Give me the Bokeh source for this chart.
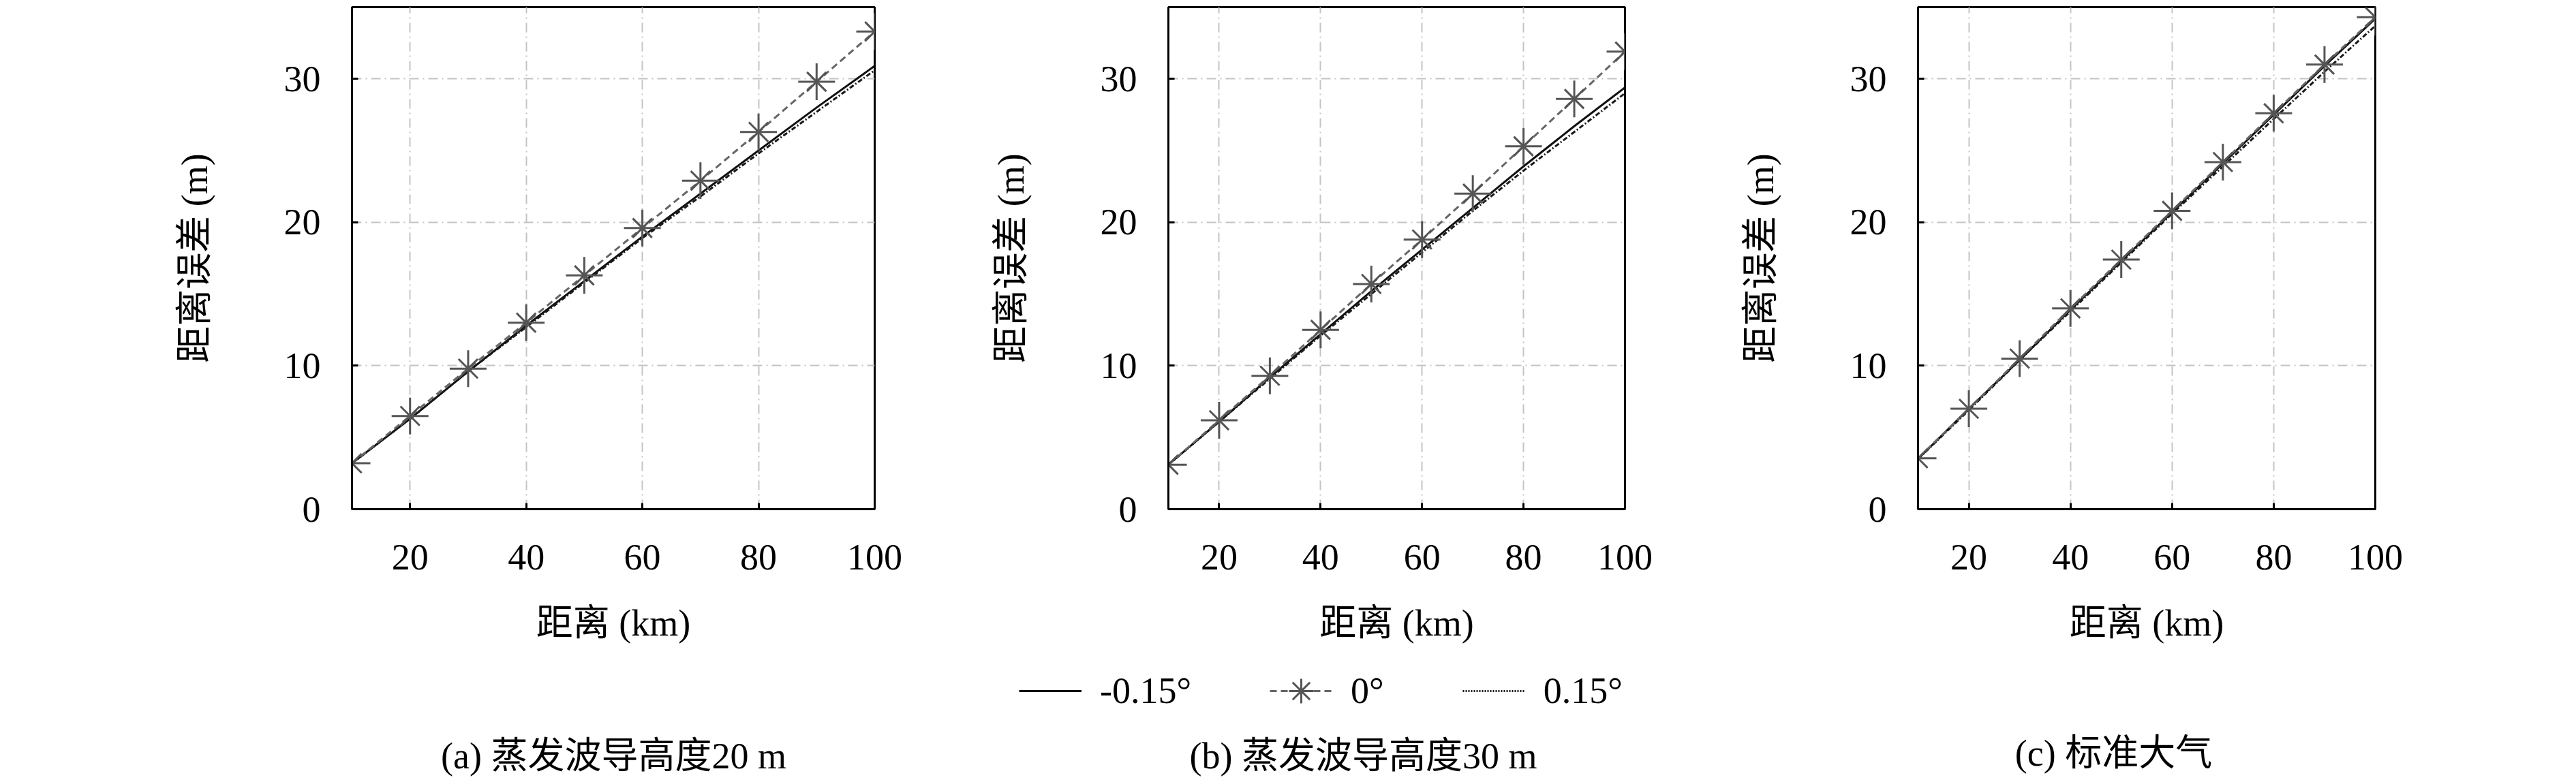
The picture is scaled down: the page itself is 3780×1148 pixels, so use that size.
from bokeh.plotting import figure
from bokeh.layouts import row, column
from bokeh.models import Range1d, FixedTicker, Legend, LegendItem, Label
from bokeh.embed import file_html
from bokeh.resources import INLINE

# ---------------- data ----------------
distance_km = [10, 20, 30, 40, 50, 60, 70, 80, 90, 100]

# (a) evaporation duct height 20 m
a_neg = [3.2, 6.3, 9.6, 12.8, 15.9, 19.0, 22.0, 25.0, 28.0, 30.9]
a_zero = [3.2, 6.5, 9.8, 13.0, 16.3, 19.6, 22.9, 26.3, 29.8, 33.3]
a_pos = [3.2, 6.3, 9.6, 12.7, 15.8, 18.9, 21.8, 24.8, 27.7, 30.6]

# (b) evaporation duct height 30 m
b_neg = [3.1, 6.1, 9.2, 12.2, 15.2, 18.1, 21.0, 23.9, 26.7, 29.4]
b_zero = [3.1, 6.2, 9.3, 12.5, 15.7, 18.8, 22.0, 25.3, 28.6, 31.9]
b_pos = [3.1, 6.1, 9.1, 12.1, 15.0, 17.9, 20.8, 23.6, 26.3, 29.0]

# (c) standard atmosphere
c_neg = [3.5, 7.0, 10.4, 13.9, 17.3, 20.7, 24.1, 27.5, 30.9, 34.2]
c_zero = [3.55, 7.0, 10.5, 14.0, 17.4, 20.8, 24.2, 27.6, 31.0, 34.3]
c_pos = [3.5, 6.9, 10.4, 13.8, 17.2, 20.6, 23.9, 27.2, 30.5, 33.7]

captions = ["(a) 蒸发波导高度20 m", "(b) 蒸发波导高度30 m", "(c) 标准大气"]
legend_labels = ["-0.15°", "0°", "0.15°"]
x_label = "距离 (km)"
y_label = "距离误差 (m)"
x_ticks = [20, 40, 60, 80, 100]
y_ticks = [0, 10, 20, 30]
x_limits = (10, 100)
y_limits = (0, 35)

# ---------------- style ----------------
LATIN = "Liberation Serif"
MIXED = "'Liberation Serif', 'Noto Sans CJK SC'"
FS = "54px"
TOP = 10
FRAME_H = 737
BOTTOM = 218
H_UP = TOP + FRAME_H + BOTTOM
H_FOOT = 180
TOTAL_W = 3764

NEG_STYLE = dict(line_color="#111111", line_width=3)
POS_STYLE = dict(line_color="#1a1a1a", line_width=3, line_dash="7 3 2 3")
ZERO_STYLE = dict(line_color="#666666", line_width=3, line_dash="10 6")
CROSS_STYLE = dict(marker="cross", size=54, line_color="#555555", line_width=3)
X_STYLE = dict(marker="x", size=40, line_color="#555555", line_width=3)


def make_panel(neg, zero, pos, width, bl, br):
    p = figure(width=width, height=H_UP,
               x_range=Range1d(*x_limits), y_range=Range1d(*y_limits),
               output_backend="svg", toolbar_location=None,
               min_border_left=bl, min_border_right=br,
               min_border_top=TOP, min_border_bottom=BOTTOM,
               x_axis_label=x_label, y_axis_label=y_label)
    p.background_fill_color = "white"
    p.border_fill_color = "white"
    p.outline_line_color = "black"
    p.outline_line_width = 3
    p.outline_line_alpha = 1.0

    for ax in (p.xaxis[0], p.yaxis[0]):
        ax.axis_line_color = "black"
        ax.axis_line_width = 3
        ax.major_tick_in = 9
        ax.major_tick_out = 0
        ax.major_tick_line_width = 3
        ax.minor_tick_line_color = None
        ax.major_label_text_font = LATIN
        ax.major_label_text_font_size = FS
        ax.major_label_text_color = "black"
        ax.axis_label_text_font = MIXED
        ax.axis_label_text_font_size = FS
        ax.axis_label_text_font_style = "normal"
        ax.axis_label_text_color = "black"
    p.xaxis.ticker = FixedTicker(ticks=x_ticks)
    p.yaxis.ticker = FixedTicker(ticks=y_ticks)
    p.xaxis.major_label_standoff = 52
    p.xaxis.axis_label_standoff = 46
    p.yaxis.major_label_standoff = 46
    p.yaxis.axis_label_standoff = 98

    for g in (p.xgrid[0], p.ygrid[0]):
        g.grid_line_color = "#c4c4c4"
        g.grid_line_width = 2
        g.grid_line_dash = "14 6 2 6"

    p.line(distance_km, neg, **NEG_STYLE)
    p.line(distance_km, pos, **POS_STYLE)
    p.line(distance_km, zero, **ZERO_STYLE)
    p.scatter(distance_km, zero, **CROSS_STYLE)
    p.scatter(distance_km, zero, **X_STYLE)
    return p


pa = make_panel(a_neg, a_zero, a_pos, 1450, 516, 167)
pb = make_panel(b_neg, b_zero, b_pos, 1100, 166, 166)
pc = make_panel(c_neg, c_zero, c_pos, 1214, 167, 279)

# ---------------- footer: shared legend and sub-captions ----------------
foot = figure(width=TOTAL_W, height=H_FOOT,
              x_range=Range1d(0, TOTAL_W), y_range=Range1d(H_FOOT, 0),
              output_backend="svg", toolbar_location=None,
              min_border=0, x_axis_type=None, y_axis_type=None)
foot.outline_line_color = None
foot.background_fill_color = "white"
foot.border_fill_color = "white"
foot.grid.visible = False

# legend proxies (hidden renderers carrying the series' styles)
l_neg = foot.line(distance_km, b_neg, visible=False, **NEG_STYLE)
l_zero = foot.line(distance_km, b_zero, visible=False, **ZERO_STYLE)
l_cross = foot.scatter(distance_km, b_zero, visible=False, **CROSS_STYLE)
l_x = foot.scatter(distance_km, b_zero, visible=False, **X_STYLE)
l_pos = foot.line(distance_km, b_pos, visible=False, line_color="#1a1a1a",
                  line_width=3, line_dash="2 2")

items = [LegendItem(label=legend_labels[0], renderers=[l_neg]),
         LegendItem(label=legend_labels[1], renderers=[l_zero, l_cross, l_x]),
         LegendItem(label=legend_labels[2], renderers=[l_pos])]
lg = Legend(items=items, orientation="horizontal",
            location=(1495, H_FOOT - 94), padding=0, margin=0,
            spacing=115, glyph_width=92, glyph_height=90,
            label_height=90, label_standoff=27,
            label_text_font=LATIN, label_text_font_size=FS,
            label_text_color="black",
            border_line_color=None, background_fill_alpha=0)
foot.add_layout(lg, "center")

caption_x = [900, 2000, 3101]
caption_y = [144, 144, 140]
for cx, cy, txt in zip(caption_x, caption_y, captions):
    foot.add_layout(Label(x=cx, y=cy, text=txt, text_align="center",
                          text_baseline="middle", text_font=MIXED,
                          text_font_size=FS, text_color="black"))

layout = column(row(pa, pb, pc), foot)
open("out.html", "w").write(file_html(layout, INLINE))
